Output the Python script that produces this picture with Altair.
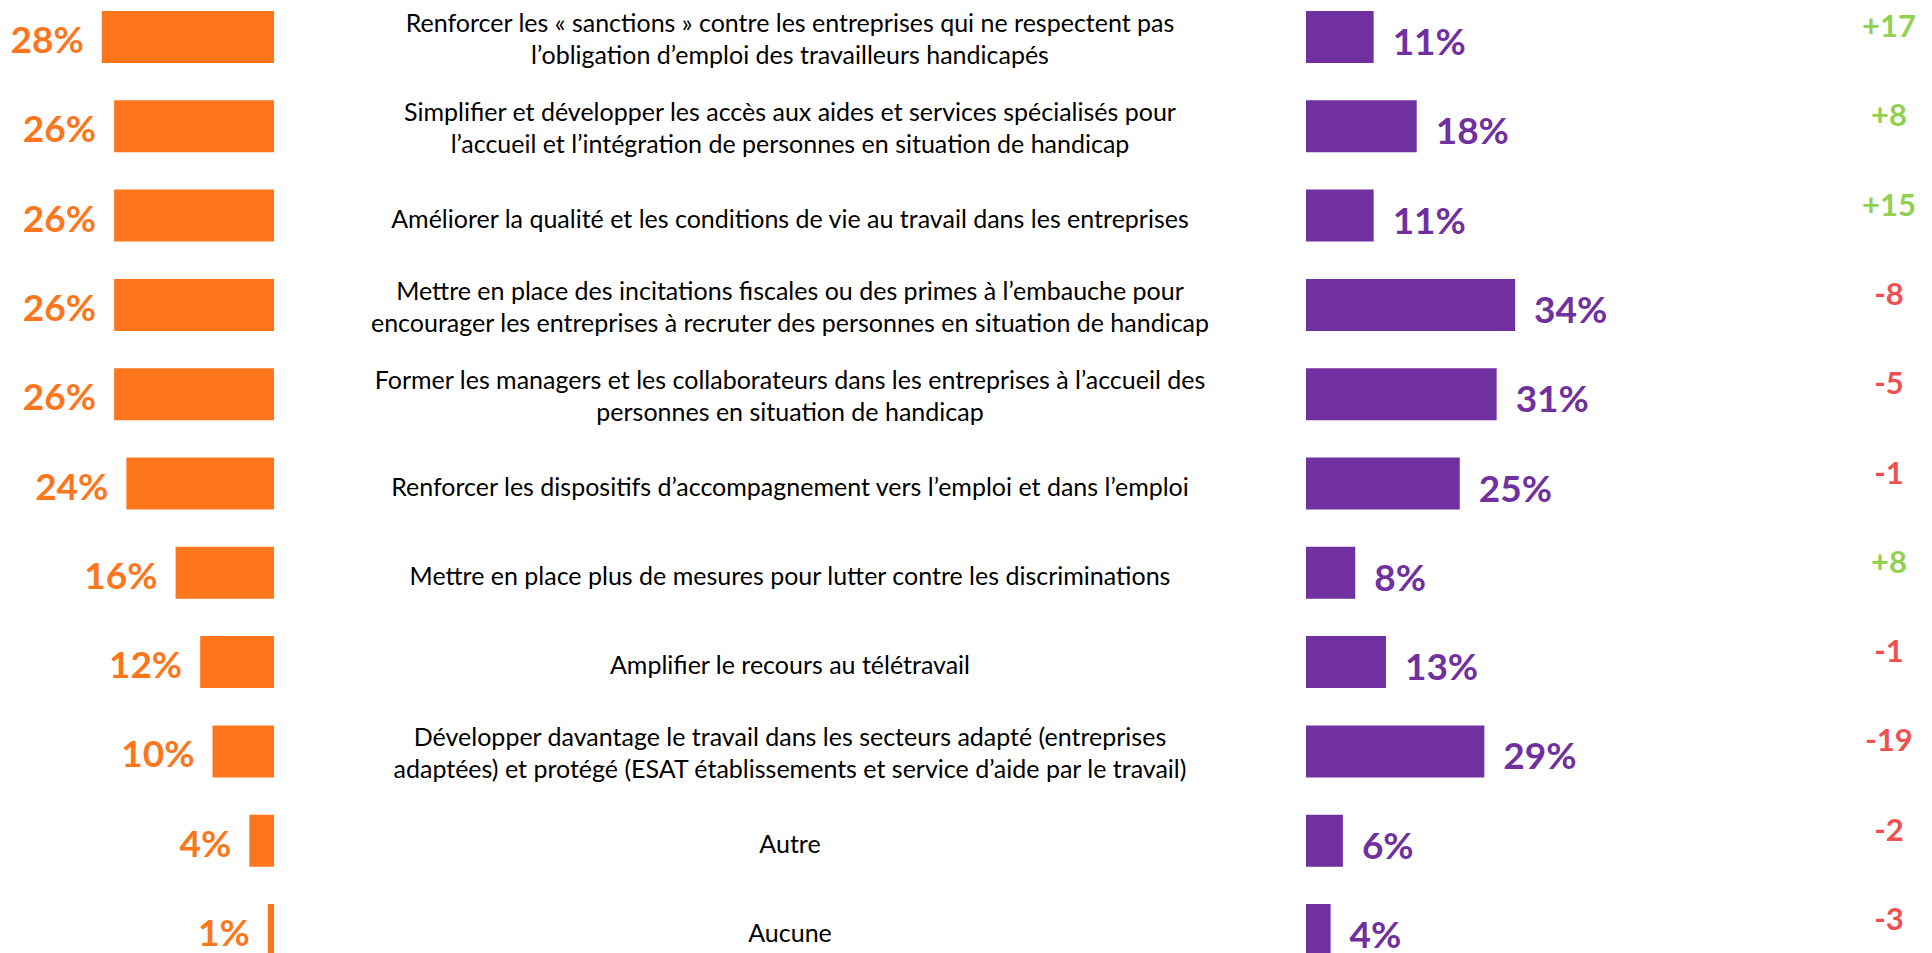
import altair as alt
import pandas as pd

categories = [
    "Renforcer les « sanctions » contre les entreprises qui ne respectent pas\nl’obligation d’emploi des travailleurs handicapés",
    "Simplifier et développer les accès aux aides et services spécialisés pour\nl’accueil et l’intégration de personnes en situation de handicap",
    "Améliorer la qualité et les conditions de vie au travail dans les entreprises",
    "Mettre en place des incitations fiscales ou des primes à l’embauche pour\nencourager les entreprises à recruter des personnes en situation de handicap",
    "Former les managers et les collaborateurs dans les entreprises à l’accueil des\npersonnes en situation de handicap",
    "Renforcer les dispositifs d’accompagnement vers l’emploi et dans l’emploi",
    "Mettre en place plus de mesures pour lutter contre les discriminations",
    "Amplifier le recours au télétravail",
    "Développer davantage le travail dans les secteurs adapté (entreprises\nadaptées) et protégé (ESAT établissements et service d’aide par le travail)",
    "Autre",
    "Aucune",
]
left_values = [28, 26, 26, 26, 26, 24, 16, 12, 10, 4, 1]
right_values = [11, 18, 11, 34, 31, 25, 8, 13, 29, 6, 4]
deltas = [17, 8, 15, -8, -5, -1, 8, -1, -19, -2, -3]

df = pd.DataFrame({
    "cat": categories,
    "left": left_values,
    "right": right_values,
    "delta": deltas,
})
df["left_label"] = [f"{v}%" for v in left_values]
df["right_label"] = [f"{v}%" for v in right_values]
df["delta_label"] = [f"+{d}" if d > 0 else f"{d}" for d in deltas]
df["sign"] = ["pos" if d > 0 else "neg" for d in deltas]
df["nlines"] = [c.count("\n") + 1 for c in categories]

ORANGE = "#FE761B"
PURPLE = "#7030A0"
GREEN = "#92D050"
RED = "#F05050"
FONT = "Lato"

W, H = 1916, 960
K = 6.15          # pixels per percentage point
XO = 266          # anchor of left (orange) bars
XP = 1298         # anchor of right (purple) bars
STEP = 89.3
BAR = 52
PI = 1 - BAR / STEP
Y0 = 29 - STEP / 2

yscale = alt.Scale(domain=categories, range=[Y0, Y0 + len(categories) * STEP],
                   paddingInner=PI, paddingOuter=PI / 2)
Y = alt.Y("cat:N", sort=categories, scale=yscale, axis=None)

lscale = alt.Scale(domain=[0, 40], range=[XO, XO - 40 * K])
rscale = alt.Scale(domain=[0, 40], range=[XP, XP + 40 * K])

base = alt.Chart(df)

left_bars = base.mark_bar(color=ORANGE).encode(
    x=alt.X("left:Q", scale=lscale, axis=None), y=Y)
left_text = base.mark_text(align="right", baseline="middle", dx=-18, dy=5,
                           font=FONT, fontWeight="bold", fontSize=37,
                           color=ORANGE).encode(
    x=alt.X("left:Q", scale=lscale, axis=None), y=Y, text="left_label:N")

right_bars = base.mark_bar(color=PURPLE).encode(
    x=alt.X("right:Q", scale=rscale, axis=None), y=Y)
right_text = base.mark_text(align="left", baseline="middle", dx=19, dy=7,
                            font=FONT, fontWeight="bold", fontSize=37,
                            color=PURPLE).encode(
    x=alt.X("right:Q", scale=rscale, axis=None), y=Y, text="right_label:N")

center_single = base.transform_filter("datum.nlines == 1").mark_text(
    align="center", baseline="middle", dy=4, font=FONT, fontSize=25,
    color="#000000").encode(x=alt.value(782), y=Y, text="cat:N")

center_multi = base.transform_filter("datum.nlines == 2").mark_text(
    align="center", baseline="middle", dy=-13, font=FONT, fontSize=25,
    lineHeight=32, lineBreak="\n", color="#000000").encode(
    x=alt.value(782), y=Y, text="cat:N")

delta_text = base.mark_text(align="center", baseline="middle", dy=-9,
                            font=FONT, fontWeight="bold", fontSize=31).encode(
    x=alt.value(1881), y=Y, text="delta_label:N",
    color=alt.Color("sign:N", scale=alt.Scale(domain=["pos", "neg"], range=[GREEN, RED]),
                    legend=None))

chart = alt.layer(
    left_bars, left_text, right_bars, right_text, center_single, center_multi, delta_text
).resolve_scale(x="independent").properties(
    width=W, height=H, padding=0, autosize=alt.AutoSizeParams(type="none")
).configure_view(stroke=None)

chart.save("out.html", embed_options={"renderer": "svg", "actions": False})
